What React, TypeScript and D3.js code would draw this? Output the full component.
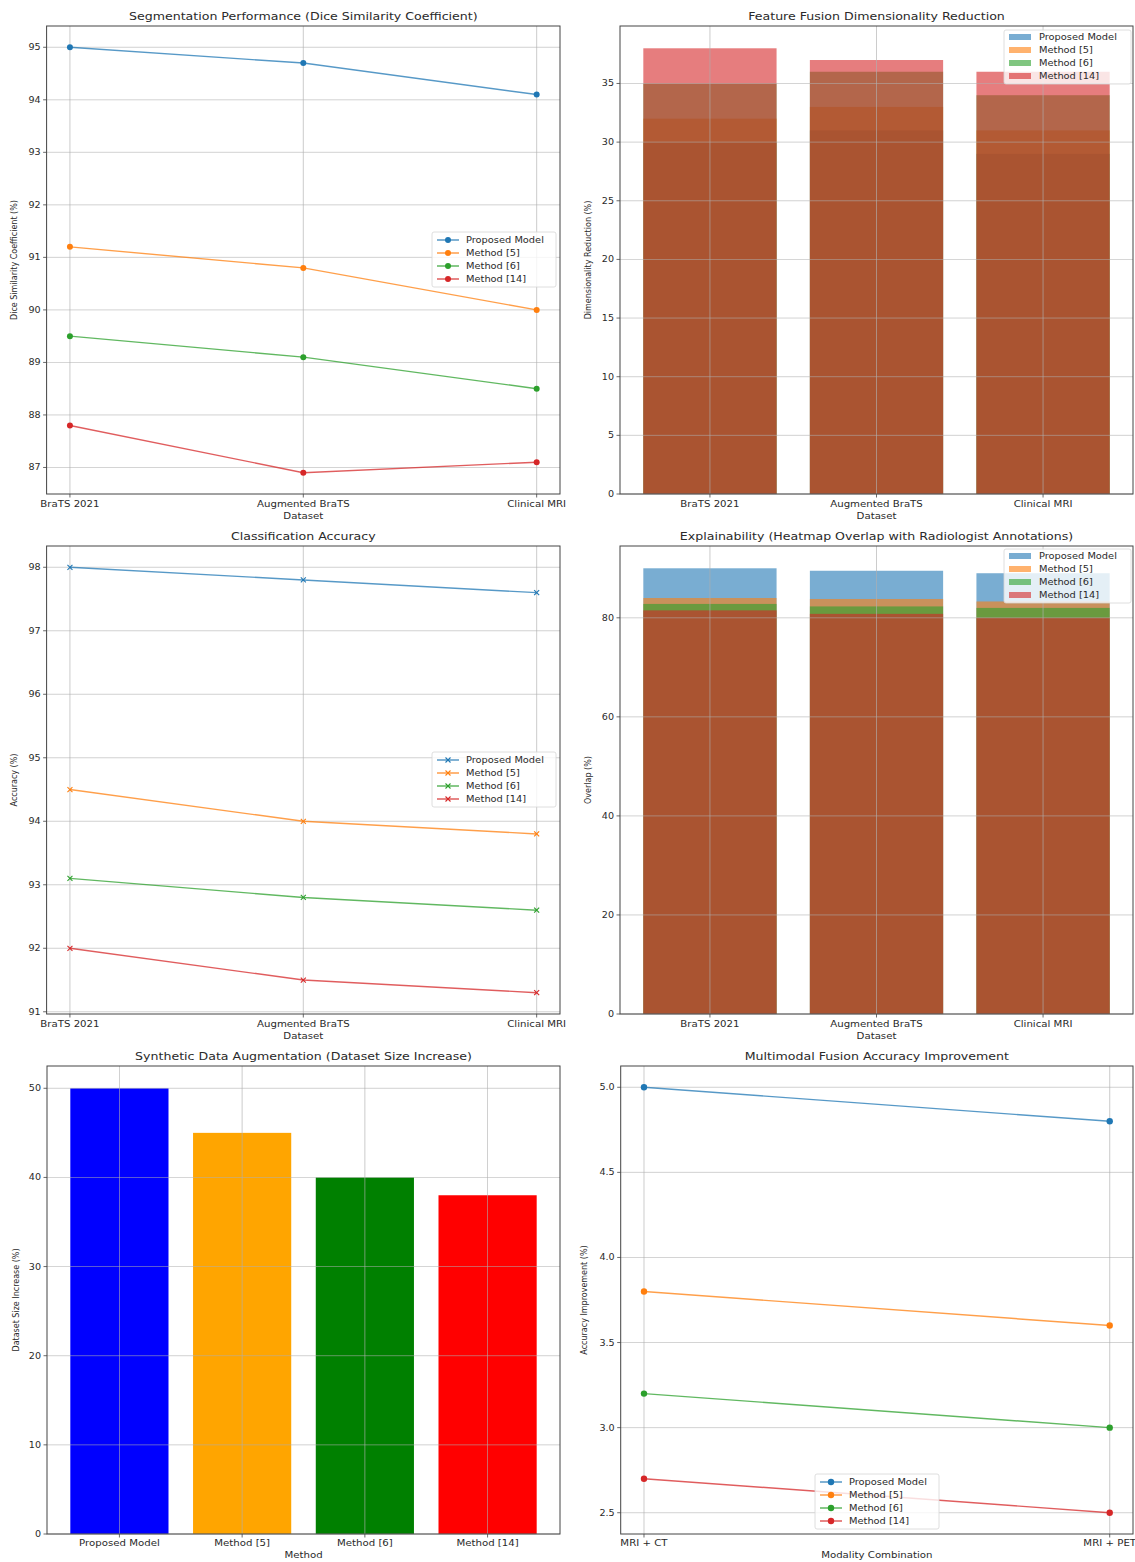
import React from "react";
import * as d3 from "d3";

const datasets = ["BraTS 2021", "Augmented BraTS", "Clinical MRI"];
const methods = ["Proposed Model", "Method [5]", "Method [6]", "Method [14]"];
const tabColors = ["#1f77b4", "#ff7f0e", "#2ca02c", "#d62728"];

// Segmentation (Dice)
const diceProposed = [95.0, 94.7, 94.1];
const diceM5 = [91.2, 90.8, 90.0];
const diceM6 = [89.5, 89.1, 88.5];
const diceM14 = [87.8, 86.9, 87.1];
const diceTicks = [87, 88, 89, 90, 91, 92, 93, 94, 95];

// Feature fusion dimensionality reduction
const dimProposed = [30, 31, 29];
const dimM5 = [32, 33, 31];
const dimM6 = [35, 36, 34];
const dimM14 = [38, 37, 36];
const dimTicks = [0, 5, 10, 15, 20, 25, 30, 35];

// Classification accuracy
const accProposed = [98.0, 97.8, 97.6];
const accM5 = [94.5, 94.0, 93.8];
const accM6 = [93.1, 92.8, 92.6];
const accM14 = [92.0, 91.5, 91.3];
const accTicks = [91, 92, 93, 94, 95, 96, 97, 98];

// Explainability overlap
const ovlProposed = [90, 89.5, 89];
const ovlM5 = [84, 83.8, 83.3];
const ovlM6 = [82.8, 82.3, 82.0];
const ovlM14 = [81.5, 80.8, 80.0];
const ovlTicks = [0, 20, 40, 60, 80];

// Synthetic data augmentation
const augValues = [50, 45, 40, 38];
const augColors = ["blue", "orange", "green", "red"];
const augTicks = [0, 10, 20, 30, 40, 50];

// Multimodal fusion
const modalities = ["MRI + CT", "MRI + PET"];
const mmProposed = [5.0, 4.8];
const mmM5 = [3.8, 3.6];
const mmM6 = [3.2, 3.0];
const mmM14 = [2.7, 2.5];
const mmTicks = [2.5, 3.0, 3.5, 4.0, 4.5, 5.0];

const FONT = "DejaVu Sans, sans-serif";
const TXT = "#2a2a2a";
const GRID = "#b0b0b0";
const SX = 1.2;
const BAR_ALPHA = 0.6;

type Box = { l: number; r: number; t: number; b: number };

function T({ x, y, size, anchor, children }: any) {
  return (
    <text transform={`translate(${x},${y}) scale(${SX},1)`} textAnchor={anchor || "start"} fontSize={size} fill={TXT} fontFamily={FONT}>
      {children}
    </text>
  );
}

function Frame({ box, title, xlabel, ylabel, ylabelX, tickY }: any) {
  return (
    <g>
      <rect x={box.l} y={box.t} width={box.r - box.l} height={box.b - box.t} fill="none" stroke="#444" strokeWidth={1} />
      <T x={(box.l + box.r) / 2} y={box.t - 6} size={10.5} anchor="middle">{title}</T>
      <T x={(box.l + box.r) / 2} y={tickY + 12} size={8.5} anchor="middle">{xlabel}</T>
      <text transform={`translate(${ylabelX},${(box.t + box.b) / 2}) rotate(-90)`} textAnchor="middle" fontSize={8} fill={TXT} fontFamily={FONT}>{ylabel}</text>
    </g>
  );
}

function YAxis({ box, y, ticks, fmt }: any) {
  return (
    <g>
      {ticks.map((t: number) => (
        <g key={t}>
          <line x1={box.l} x2={box.r} y1={y(t)} y2={y(t)} stroke={GRID} strokeWidth={0.8} opacity={0.7} />
          <line x1={box.l - 3.5} x2={box.l} y1={y(t)} y2={y(t)} stroke="#444" strokeWidth={0.8} />
          <T x={box.l - 6} y={y(t) + 3} size={8} anchor="end">{fmt ? fmt(t) : t}</T>
        </g>
      ))}
    </g>
  );
}

function XAxis({ box, x, cats, tickY }: any) {
  return (
    <g>
      {cats.map((c: string, i: number) => (
        <g key={c}>
          <line x1={x(i)} x2={x(i)} y1={box.t} y2={box.b} stroke={GRID} strokeWidth={0.8} opacity={0.8} />
          <line x1={x(i)} x2={x(i)} y1={box.b} y2={box.b + 3.5} stroke="#444" strokeWidth={0.8} />
          <T x={x(i)} y={tickY} size={8.5} anchor="middle">{c}</T>
        </g>
      ))}
    </g>
  );
}

function Marker({ kind, cx, cy, color, size }: any) {
  if (kind === "x") {
    const s = size;
    return (
      <g stroke={color} strokeWidth={1.1}>
        <line x1={cx - s} x2={cx + s} y1={cy - s} y2={cy + s} />
        <line x1={cx - s} x2={cx + s} y1={cy + s} y2={cy - s} />
      </g>
    );
  }
  return <circle cx={cx} cy={cy} r={size} fill={color} />;
}

function LineLegend({ x0, y0, marker, msize }: any) {
  const w = 124, h = 55;
  return (
    <g>
      <rect x={x0} y={y0} width={w} height={h} rx={2} fill="#fff" fillOpacity={0.8} stroke="#d5d5d5" strokeWidth={0.8} />
      {methods.map((m, i) => {
        const yy = y0 + 8 + i * 13;
        return (
          <g key={m}>
            <line x1={x0 + 5} x2={x0 + 27} y1={yy} y2={yy} stroke={tabColors[i]} strokeWidth={1.4} opacity={0.8} />
            <Marker kind={marker} cx={x0 + 16} cy={yy} color={tabColors[i]} size={msize} />
            <T x={x0 + 34} y={yy + 3} size={8.2}>{m}</T>
          </g>
        );
      })}
    </g>
  );
}

function BarLegend({ x0, y0 }: any) {
  const w = 127, h = 54;
  return (
    <g>
      <rect x={x0} y={y0} width={w} height={h} rx={2} fill="#fff" fillOpacity={0.8} stroke="#d5d5d5" strokeWidth={0.8} />
      {methods.map((m, i) => {
        const yy = y0 + 7 + i * 13;
        return (
          <g key={m}>
            <rect x={x0 + 5} y={yy - 3} width={22} height={6} fill={tabColors[i]} fillOpacity={BAR_ALPHA} />
            <T x={x0 + 35} y={yy + 3} size={8.2}>{m}</T>
          </g>
        );
      })}
    </g>
  );
}

function LinePanel({ box, cats, series, ticks, fmt, marker, msize, legend, title, xlabel, ylabel, ylabelX, tickY }: any) {
  const n = cats.length;
  const x = d3.scaleLinear().domain([-0.05 * (n - 1), (n - 1) * 1.05]).range([box.l, box.r]);
  const all = series.flat();
  const mn = d3.min(all) as number, mx = d3.max(all) as number;
  const pad = (mx - mn) * 0.05;
  const y = d3.scaleLinear().domain([mn - pad, mx + pad]).range([box.b, box.t]);
  const line = d3.line<number>().x((_, i) => x(i)).y((v) => y(v));
  return (
    <g>
      <YAxis box={box} y={y} ticks={ticks} fmt={fmt} />
      <XAxis box={box} x={x} cats={cats} tickY={tickY} />
      {series.map((s: number[], k: number) => (
        <g key={k}>
          <path d={line(s) || ""} fill="none" stroke={tabColors[k]} strokeWidth={1.4} opacity={0.75} />
          {s.map((v, i) => (
            <Marker key={i} kind={marker} cx={x(i)} cy={y(v)} color={tabColors[k]} size={msize} />
          ))}
        </g>
      ))}
      <Frame box={box} title={title} xlabel={xlabel} ylabel={ylabel} ylabelX={ylabelX} tickY={tickY} />
      <LineLegend x0={legend[0]} y0={legend[1]} marker={marker} msize={msize} />
    </g>
  );
}

function OverlapBarPanel({ box, cats, series, ticks, title, xlabel, ylabel, ylabelX, tickY, legend }: any) {
  const n = cats.length;
  const span = n - 1 + 0.8;
  const x = d3.scaleLinear().domain([-0.4 - 0.05 * span, n - 1 + 0.4 + 0.05 * span]).range([box.l, box.r]);
  const mx = d3.max(series.flat()) as number;
  const y = d3.scaleLinear().domain([0, mx * 1.05]).range([box.b, box.t]);
  const bw = x(0.8) - x(0);
  return (
    <g>
      {series.map((s: number[], k: number) => (
        <g key={k}>
          {s.map((v, i) => (
            <rect key={i} x={x(i) - bw / 2} y={y(v)} width={bw} height={y(0) - y(v)} fill={tabColors[k]} fillOpacity={BAR_ALPHA} />
          ))}
        </g>
      ))}
      <YAxis box={box} y={y} ticks={ticks} />
      <XAxis box={box} x={x} cats={cats} tickY={tickY} />
      <Frame box={box} title={title} xlabel={xlabel} ylabel={ylabel} ylabelX={ylabelX} tickY={tickY} />
      <BarLegend x0={legend[0]} y0={legend[1]} />
    </g>
  );
}

function SimpleBarPanel({ box, cats, values, colors, ticks, title, xlabel, ylabel, ylabelX, tickY }: any) {
  const n = cats.length;
  const span = n - 1 + 0.8;
  const x = d3.scaleLinear().domain([-0.4 - 0.05 * span, n - 1 + 0.4 + 0.05 * span]).range([box.l, box.r]);
  const mx = d3.max(values) as number;
  const y = d3.scaleLinear().domain([0, mx * 1.05]).range([box.b, box.t]);
  const bw = x(0.8) - x(0);
  return (
    <g>
      {values.map((v: number, i: number) => (
        <rect key={i} x={x(i) - bw / 2} y={y(v)} width={bw} height={y(0) - y(v)} fill={colors[i]} />
      ))}
      <YAxis box={box} y={y} ticks={ticks} />
      <XAxis box={box} x={x} cats={cats} tickY={tickY} />
      <Frame box={box} title={title} xlabel={xlabel} ylabel={ylabel} ylabelX={ylabelX} tickY={tickY} />
    </g>
  );
}

export default function App() {
  const b1: Box = { l: 46.6, r: 560, t: 26, b: 494 };
  const b2: Box = { l: 620, r: 1133, t: 26, b: 494 };
  const b3: Box = { l: 46.6, r: 560, t: 546, b: 1014 };
  const b4: Box = { l: 620, r: 1133, t: 546, b: 1014 };
  const b5: Box = { l: 47, r: 560, t: 1066, b: 1534 };
  const b6: Box = { l: 620.7, r: 1133, t: 1066, b: 1534 };
  return (
    <svg width={1135} height={1562} style={{ position: "absolute", left: 0, top: 0, background: "#fff" }}>
      <rect x={0} y={0} width={1135} height={1562} fill="#fff" />
      <LinePanel box={b1} cats={datasets} series={[diceProposed, diceM5, diceM6, diceM14]} ticks={diceTicks}
        marker="o" msize={3} legend={[432, 232]} title="Segmentation Performance (Dice Similarity Coefficient)"
        xlabel="Dataset" ylabel="Dice Similarity Coefficient (%)" ylabelX={17} tickY={507} />
      <OverlapBarPanel box={b2} cats={datasets} series={[dimProposed, dimM5, dimM6, dimM14]} ticks={dimTicks}
        title="Feature Fusion Dimensionality Reduction" xlabel="Dataset" ylabel="Dimensionality Reduction (%)"
        ylabelX={591} tickY={507} legend={[1004, 30]} />
      <LinePanel box={b3} cats={datasets} series={[accProposed, accM5, accM6, accM14]} ticks={accTicks}
        marker="x" msize={2.5} legend={[432, 752]} title="Classification Accuracy"
        xlabel="Dataset" ylabel="Accuracy (%)" ylabelX={17} tickY={1027} />
      <OverlapBarPanel box={b4} cats={datasets} series={[ovlProposed, ovlM5, ovlM6, ovlM14]} ticks={ovlTicks}
        title="Explainability (Heatmap Overlap with Radiologist Annotations)" xlabel="Dataset" ylabel="Overlap (%)"
        ylabelX={591} tickY={1027} legend={[1004, 549]} />
      <SimpleBarPanel box={b5} cats={methods} values={augValues} colors={augColors} ticks={augTicks}
        title="Synthetic Data Augmentation (Dataset Size Increase)" xlabel="Method" ylabel="Dataset Size Increase (%)"
        ylabelX={19} tickY={1546} />
      <LinePanel box={b6} cats={modalities} series={[mmProposed, mmM5, mmM6, mmM14]} ticks={mmTicks}
        fmt={(t: number) => t.toFixed(1)} marker="o" msize={3.2} legend={[815, 1474]}
        title="Multimodal Fusion Accuracy Improvement" xlabel="Modality Combination" ylabel="Accuracy Improvement (%)"
        ylabelX={587} tickY={1546} />
    </svg>
  );
}
